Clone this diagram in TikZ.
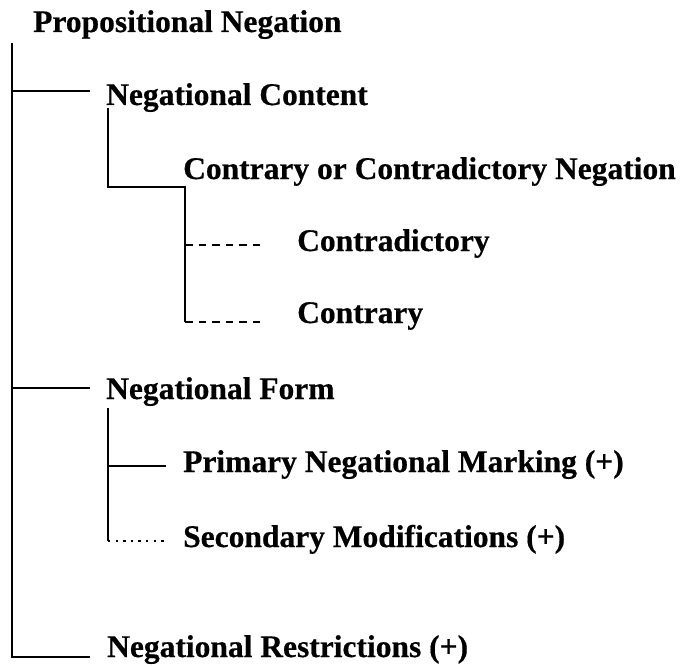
\documentclass[tikz,border=0pt]{standalone}
\usepackage{fontspec}
\setmainfont{Liberation Serif}[BoldFeatures={FakeBold=0.5}]
\begin{document}
\begin{tikzpicture}[x=1pt,y=-1pt,
    label/.style={anchor=base west, inner sep=0pt, font=\bfseries\fontsize{31.5}{36}\selectfont},
    branch/.style={line width=1.8pt},
    dashbranch/.style={line width=1.8pt, dash pattern=on 7.5pt off 6pt},
    dotbranch/.style={line width=2.6pt, dash pattern=on 2.4pt off 5.2pt}]
  \useasboundingbox (0,0) rectangle (687,666);

  % headings, placed by their baselines
  \node[label] (root)   at (33,32)   {Propositional Negation};
  \node[label] (cont)   at (106,105) {Negational Content};
  \node[label] (ccn)    at (183,179) {Contrary or Contradictory Negation};
  \node[label] (cdict)  at (297,251) {Contradictory};
  \node[label] (ctry)   at (297,323) {Contrary};
  \node[label] (form)   at (106,399) {Negational Form};
  \node[label] (prim)   at (183,472) {Primary Negational Marking (+)};
  \node[label] (sec)    at (183,547) {Secondary Modifications (+)};
  \node[label] (restr)  at (107,657) {Negational Restrictions (+)};

  % ends of the branch stubs
  \coordinate (trunk)  at (12,43);
  \coordinate (toCont) at (90,91);
  \coordinate (toForm) at (90,388);
  \coordinate (toRes)  at (90,657);
  \coordinate (cTop)   at (108,108);
  \coordinate (cKnee)  at (185,187);
  \coordinate (toCd)   at (260,245);
  \coordinate (toCt)   at (260,322);
  \coordinate (fTop)   at (108,408);
  \coordinate (toPrim) at (166,466);
  \coordinate (toSec)  at (164,541);

  % main trunk
  \draw[branch] (trunk) |- (toRes);
  \draw[branch] (trunk |- toCont) -- (toCont);
  \draw[branch] (trunk |- toForm) -- (toForm);

  % content subtree
  \draw[branch] (cTop) |- (cKnee) -- (cKnee |- toCt);
  \draw[dashbranch] (cKnee |- toCd) -- (toCd);
  \draw[dashbranch] (cKnee |- toCt) -- (toCt);

  % form subtree
  \draw[branch] (fTop) -- (fTop |- toSec);
  \draw[branch] (fTop |- toPrim) -- (toPrim);
  \draw[dotbranch] (fTop |- toSec) -- (toSec);
\end{tikzpicture}
\end{document}
